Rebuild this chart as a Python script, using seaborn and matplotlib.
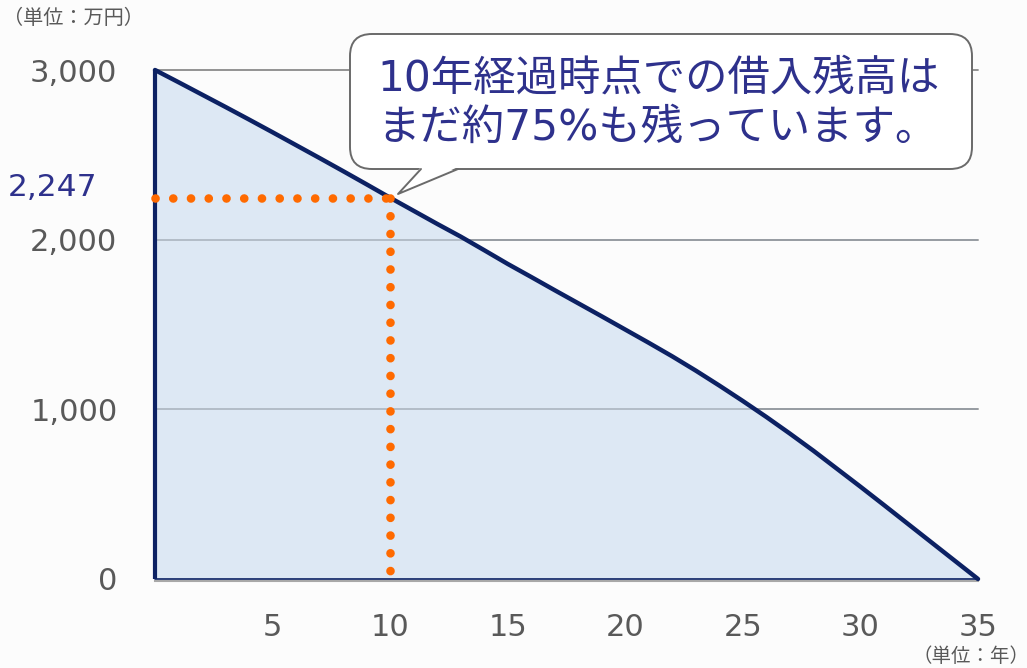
import matplotlib
matplotlib.use("Agg")
import matplotlib.pyplot as plt
import seaborn as sns
import pandas as pd
from matplotlib.patches import FancyBboxPatch, Polygon
from matplotlib.lines import Line2D

# ---------------- data ----------------
years = list(range(0, 36))
balance = [3000, 2928, 2855, 2782, 2708, 2633, 2557, 2481, 2404, 2326,
           2247, 2170, 2093, 2018, 1938, 1857, 1780, 1702, 1625, 1548,
           1470, 1392, 1312, 1228, 1140, 1049, 955, 857, 756, 650,
           544, 436, 327, 218, 109, 0]
highlight_year = 10
highlight_value = 2247
highlight_label = "2,247"
y_ticks = [0, 1000, 2000, 3000]
y_tick_labels = ["0", "1,000", "2,000", "3,000"]
x_ticks = [5, 10, 15, 20, 25, 30, 35]
x_tick_labels = ["5", "10", "15", "20", "25", "30", "35"]
bubble_lines = ["10年経過時点での借入残高は", "まだ約75%も残っています。"]
y_unit = "（単位：万円）"
x_unit = "（単位：年）"

df = pd.DataFrame({"year": years, "balance": balance})

# ---------------- style ----------------
sns.set_theme(style="white")
plt.rcParams["font.family"] = ["DejaVu Sans", "Noto Sans CJK JP"]
JP = ["Noto Sans CJK JP", "DejaVu Sans"]
MIX = ["DejaVu Sans", "Noto Sans CJK JP"]

NAVY = "#0c2163"
FILL = "#dde8f4"
ORANGE = "#ff6a00"
GRID = "#8a8a8a"
TXT = "#595959"
INDIGO = "#2e318c"
BG = "#fcfcfc"

W, H = 1027, 668
fig = plt.figure(figsize=(W / 100, H / 100), dpi=100, facecolor=BG)

def fx(x):
    return x / W

def fy(y):
    return 1 - y / H

ax_l, ax_r, ax_t, ax_b = 155, 978, 70, 579
ax = fig.add_axes([fx(ax_l), fy(ax_b), fx(ax_r - ax_l), (ax_b - ax_t) / H])
ax.set_facecolor(BG)

# grid lines
for v in y_ticks[1:]:
    ax.axhline(v, color=GRID, lw=1.3, zorder=1, clip_on=False)

# area fill
ax.fill_between(df["year"], df["balance"], 0, color=FILL, lw=0, zorder=2)
for v in y_ticks[1:-1]:
    ax.axhline(v, color="#9aa3ad", lw=1.1, zorder=2.1, alpha=0.8)

# bottom navy edge and left edge
ax.plot([years[0], years[-1]], [0, 0], color=NAVY, lw=1.2, zorder=3, clip_on=False)
ax.plot([years[0], years[0]], [0, balance[0]], color=NAVY, lw=3.0, zorder=4,
        clip_on=False, solid_capstyle="butt")

# main line
sns.lineplot(data=df, x="year", y="balance", ax=ax, color=NAVY, lw=3.2,
             zorder=5, clip_on=False, legend=False)

# orange dotted guide lines
dot_style = dict(color=ORANGE, lw=6.2, linestyle=(0, (0.01, 2.05)),
                 dash_capstyle="round", zorder=6, clip_on=False)
ax.plot([years[0], highlight_year], [highlight_value, highlight_value], **dot_style)
ax.plot([highlight_year, highlight_year], [highlight_value, 0], **dot_style)

ax.set_xlim(years[0], years[-1])
ax.set_ylim(0, 3000)
ax.set_xticks(x_ticks)
ax.set_xticklabels(x_tick_labels)
ax.set_yticks(y_ticks)
ax.set_yticklabels(y_tick_labels)
ax.tick_params(axis="both", length=0, labelsize=22, labelcolor=TXT)
ax.tick_params(axis="y", pad=27)
ax.tick_params(axis="x", pad=23)
ax.set_xlabel("")
ax.set_ylabel("")
for s in ["top", "right", "left"]:
    ax.spines[s].set_visible(False)
ax.spines["bottom"].set_color("#a8a8a8")
ax.spines["bottom"].set_linewidth(1.5)
ax.spines["bottom"].set_position(("outward", 1.5))

# highlight value label
fig.text(fx(52), fy(187), highlight_label, color=INDIGO, fontsize=22.5,
         ha="center", va="center")

# unit labels
fig.text(fx(3), fy(18), y_unit, color=TXT, fontsize=14.5, ha="left", va="center",
         family=JP)
fig.text(fx(1029), fy(656), x_unit, color=TXT, fontsize=14, ha="right",
         va="center", family=JP)

# speech bubble
bx0, by0, bx1, by1 = 350, 34, 972, 169
r = 22
box = FancyBboxPatch((fx(bx0 + r), fy(by1 - r)),
                     fx(bx1 - bx0 - 2 * r), (by1 - by0 - 2 * r) / H,
                     boxstyle=f"round,pad={r / W},rounding_size={r / W}",
                     transform=fig.transFigure, facecolor="white",
                     edgecolor="#6a6a6a", lw=1.4, zorder=10,
                     mutation_aspect=W / H)
fig.add_artist(box)
fig.add_artist(Polygon([(fx(421), fy(by1 - 2)), (fx(398), fy(194)),
                        (fx(458), fy(by1 - 2))], closed=True,
                       facecolor="white", edgecolor="none",
                       transform=fig.transFigure, zorder=11))
fig.add_artist(Line2D([fx(421), fx(398), fx(458)],
                      [fy(by1), fy(194), fy(by1)], color="#6a6a6a", lw=1.4,
                      transform=fig.transFigure, zorder=12))
for i, line in enumerate(bubble_lines):
    fig.text(fx(377), fy(79 + 49 * i), line, color=INDIGO, fontsize=30.5,
             ha="left", va="center", family=MIX, zorder=13)

fig.savefig("out.png", dpi=100, facecolor=BG)
